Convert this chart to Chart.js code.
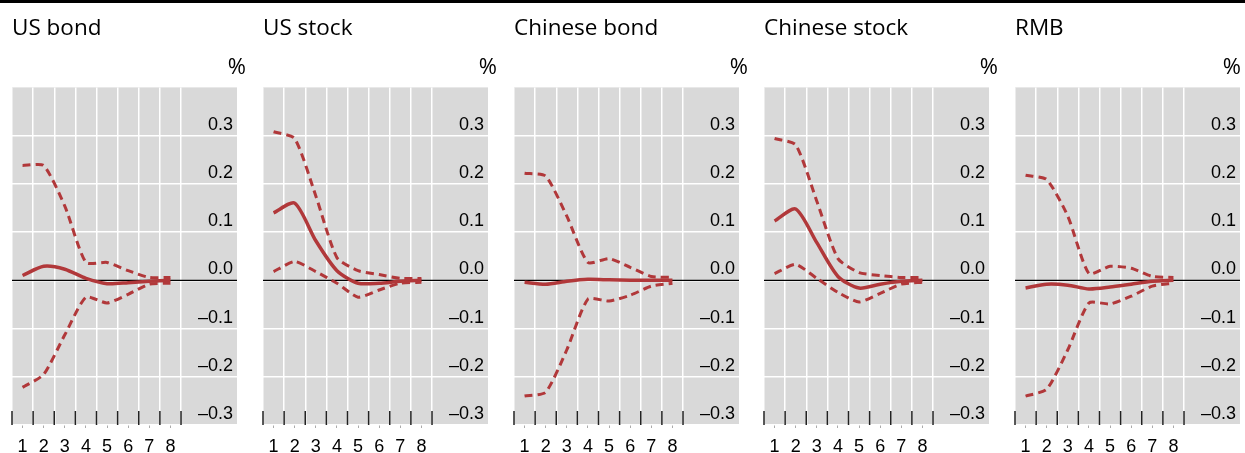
<!DOCTYPE html>
<html>
<head>
<meta charset="utf-8">
<script src="https://cdn.jsdelivr.net/npm/chart.js@4.4.1/dist/chart.umd.min.js"></script>
<style>
body { margin: 0; background: #fff; overflow: hidden; }
#wrap { position: relative; width: 1245px; height: 453px; }
#topline { position: absolute; left: 0; top: 0; width: 1245px; height: 3px; background: #000; z-index: 2; }
canvas { position: absolute; top: 0; }
</style>
</head>
<body>
<div id="wrap"><div id="topline"></div></div>
<script>
// data
var periods = [1, 2, 3, 4, 5, 6, 7, 8];
var gridX = [0.5, 1.5, 2.5, 3.5, 4.5, 5.5, 6.5, 7.5, 8.5];
var yTicks = [-0.3, -0.2, -0.1, 0, 0.1, 0.2, 0.3];
var titles = ['US bond', 'US stock', 'Chinese bond', 'Chinese stock', 'RMB'];

var usBondUp  = [0.238, 0.238, 0.154, 0.037, 0.037, 0.020, 0.006, 0.006];
var usBondMid = [0.010, 0.029, 0.023, 0.004, -0.007, -0.005, -0.002, 0.000];
var usBondLow = [-0.222, -0.195, -0.113, -0.035, -0.047, -0.029, -0.008, -0.006];

var usStockUp  = [0.308, 0.294, 0.175, 0.047, 0.020, 0.012, 0.004, 0.004];
var usStockMid = [0.140, 0.160, 0.082, 0.020, -0.006, -0.006, -0.002, 0.000];
var usStockLow = [0.018, 0.039, 0.018, -0.006, -0.035, -0.020, -0.006, -0.004];

var cnBondUp  = [0.222, 0.216, 0.133, 0.037, 0.045, 0.027, 0.008, 0.006];
var cnBondMid = [-0.004, -0.008, -0.002, 0.002, 0.001, 0.000, 0.000, 0.000];
var cnBondLow = [-0.240, -0.232, -0.144, -0.039, -0.043, -0.031, -0.012, -0.006];

var cnStockUp  = [0.294, 0.281, 0.164, 0.045, 0.016, 0.010, 0.006, 0.006];
var cnStockMid = [0.123, 0.148, 0.078, 0.008, -0.016, -0.008, -0.002, 0.000];
var cnStockLow = [0.014, 0.033, 0.004, -0.025, -0.045, -0.027, -0.008, -0.004];

var rmbUp  = [0.218, 0.209, 0.133, 0.014, 0.029, 0.025, 0.008, 0.006];
var rmbMid = [-0.016, -0.008, -0.010, -0.018, -0.014, -0.008, -0.002, 0.000];
var rmbLow = [-0.240, -0.226, -0.144, -0.047, -0.049, -0.033, -0.012, -0.006];

var panels = [
	[usBondUp, usBondMid, usBondLow],
	[usStockUp, usStockMid, usStockLow],
	[cnBondUp, cnBondMid, cnBondLow],
	[cnStockUp, cnStockMid, cnStockLow],
	[rmbUp, rmbMid, rmbLow]
];

var red = '#b1383a';
var textFont = "'Open Sans', 'Noto Sans', sans-serif";
var numFont = "'Liberation Sans', Arial, sans-serif";

function pts(vals) {
	return periods.map(function (p, i) { return { x: p, y: vals[i] }; });
}

// grey plot background, zero line, black ticks at the bottom
var panelDeco = {
	id: 'panelDeco',
	beforeDraw: function (chart) {
		var a = chart.chartArea, ctx = chart.ctx;
		ctx.save();
		ctx.fillStyle = '#d9d9d9';
		ctx.fillRect(a.left, a.top, a.right - a.left, a.bottom - a.top);
		ctx.restore();
	},
	beforeDatasetsDraw: function (chart) {
		var a = chart.chartArea, ctx = chart.ctx;
		var y0 = chart.scales.y.getPixelForValue(0);
		ctx.save();
		ctx.strokeStyle = '#000';
		ctx.lineWidth = 1.2;
		ctx.beginPath();
		ctx.moveTo(a.left, y0);
		ctx.lineTo(a.right, y0);
		ctx.stroke();
		ctx.strokeStyle = '#222';
		ctx.lineWidth = 1.5;
		gridX.forEach(function (v) {
			var x = chart.scales.xg.getPixelForValue(v);
			ctx.beginPath();
			ctx.moveTo(x, a.bottom - 14);
			ctx.lineTo(x, a.bottom);
			ctx.stroke();
		});
		ctx.restore();
	}
};

panels.forEach(function (series, k) {
	var left = Math.round(250.75 * k);
	var w = Math.min(250, 1245 - left);
	var axisW = w - 4 - 237; // keeps the plot's right edge at 237 in every panel
	var canvas = document.createElement('canvas');
	canvas.width = w;
	canvas.height = 453;
	canvas.style.left = left + 'px';
	document.getElementById('wrap').appendChild(canvas);

	new Chart(canvas, {
		type: 'line',
		data: {
			datasets: [
				{ data: pts(series[0]), borderColor: red, borderWidth: 3, borderDash: [8, 5], pointRadius: 0, tension: 0.2 },
				{ data: pts(series[2]), borderColor: red, borderWidth: 3, borderDash: [8, 5], pointRadius: 0, tension: 0.2 },
				{ data: pts(series[1]), borderColor: red, borderWidth: 3.5, pointRadius: 0, tension: 0.25 }
			]
		},
		options: {
			responsive: false,
			animation: false,
			devicePixelRatio: 1,
			layout: { padding: { left: 12, right: 4, top: 0, bottom: 0 } },
			plugins: {
				legend: { display: false },
				tooltip: { enabled: false },
				title: {
					display: true, text: titles[k], align: 'start', color: '#000',
					font: { family: textFont, size: 22.5, weight: 'normal' },
					padding: { top: 15, bottom: 13 }
				},
				subtitle: {
					display: true, text: '%', align: 'end', color: '#000',
					font: { family: textFont, size: 22, weight: 'normal' },
					padding: { top: 0, bottom: 6 }
				}
			},
			scales: {
				x: {
					type: 'linear', position: 'bottom', min: 0.5, max: 11.15,
					afterBuildTicks: function (s) { s.ticks = periods.map(function (v) { return { value: v }; }); },
					afterFit: function (s) { s.height = 28; },
					border: { display: false },
					grid: { drawOnChartArea: false, drawTicks: true, tickLength: 3, color: '#aaa' },
					ticks: { color: '#000', padding: 8, font: { family: numFont, size: 18 }, maxRotation: 0 }
				},
				xg: {
					type: 'linear', position: 'bottom', min: 0.5, max: 11.15,
					afterBuildTicks: function (s) { s.ticks = gridX.map(function (v) { return { value: v }; }); },
					afterFit: function (s) { s.height = 0; },
					border: { display: false },
					grid: { color: '#fff', lineWidth: 1.5, drawTicks: false },
					ticks: { display: false }
				},
				y: {
					type: 'linear', position: 'right', min: -0.3, max: 0.4,
					afterBuildTicks: function (s) { s.ticks = yTicks.map(function (v) { return { value: v }; }); },
					afterFit: function (s) { s.width = axisW; },
					border: { display: false },
					grid: { color: '#fff', lineWidth: 1.5, drawTicks: false },
					ticks: {
						mirror: true, padding: -4, labelOffset: -11, color: '#000',
						font: { family: numFont, size: 18 },
						callback: function (v) { return (v < 0 ? '\u2013' : '') + Math.abs(v).toFixed(1); }
					}
				}
			}
		},
		plugins: [panelDeco]
	});
});
</script>
</body>
</html>
